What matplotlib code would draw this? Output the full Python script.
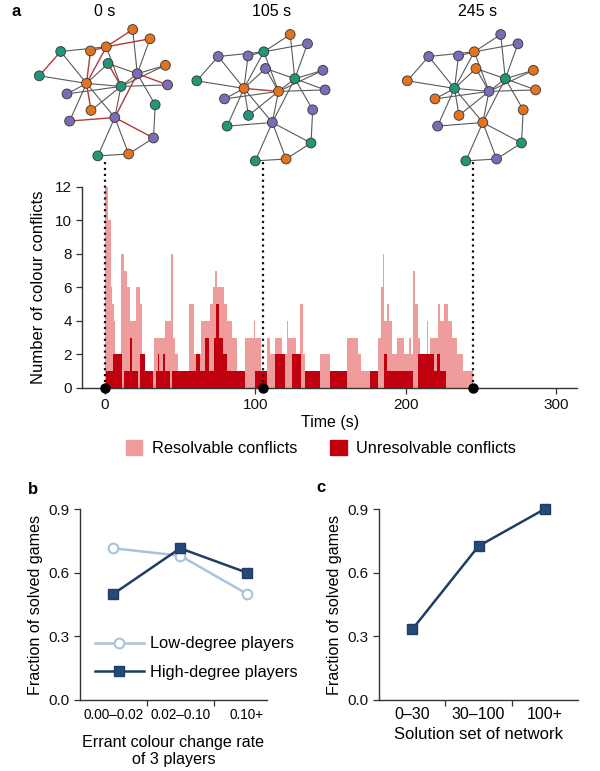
import matplotlib.pyplot as plt
from matplotlib.patches import Patch

plt.rcParams['font.family'] = ['Liberation Sans', 'DejaVu Sans']
plt.rcParams['font.size'] = 11

# ---- panel a: network snapshots ----
snap_times = [0, 105, 245]
snap_labels = ['0 s', '105 s', '245 s']
# node layout (same network in every snapshot)
node_x = [132.7, 150, 106.3, 90.5, 60.7, 108, 165.4, 137.3, 39.3, 86.5,
          121, 167.6, 67, 155.2, 91, 114.8, 69.6, 153.5, 97.8, 128.6]
node_y = [29.5, 38.8, 46.8, 50.9, 51.5, 63.5, 65.3, 73.7, 75.8, 83.4,
          86.4, 84.9, 93.9, 104.8, 110.4, 117.5, 121.1, 138, 155.9, 154]
links = [(1, 3), (1, 8), (2, 3), (2, 8), (3, 4), (5, 3), (5, 9), (5, 10), (4, 10),
         (3, 10), (3, 11), (6, 8), (6, 10), (6, 11), (9, 10), (10, 11), (10, 13),
         (10, 15), (10, 16), (10, 17), (8, 11), (11, 12), (11, 13), (11, 15),
         (8, 7), (11, 7), (8, 12), (8, 14), (8, 16), (14, 18), (11, 16), (16, 17),
         (16, 18), (16, 19), (16, 20), (18, 20), (19, 20)]
node_colours = [
    'OOOOGGOPGOGPPGOPPPGO',   # 0 s
    'OPGPPPPGGOOPPPGPGGGO',   # 105 s
    'PPOPPOOGOGPOOOOOPGGP',   # 245 s
]
palette = {'O': '#E2731F', 'G': '#23967A', 'P': '#7B6DB5'}

# ---- panel a: conflicts over time (step values) ----
t_total = [0, 2, 4, 5, 6, 7, 11, 12.5, 15, 17, 20.5, 23.5, 24.5, 27, 33, 40, 44, 45.5,
           47, 49, 56, 59, 64, 70, 72, 73, 74.5, 79, 81, 84.5, 88, 93.3, 99, 100, 104,
           108, 110, 113, 118, 121, 122, 127, 130, 131.5, 133, 143, 150, 161, 168.5,
           170, 181.3, 183.5, 184.8, 185.5, 187.5, 189.2, 190.8, 194, 198.6, 202,
           203.4, 204.7, 206.3, 208.5, 209.6, 214, 215, 216.3, 221.8, 223, 225.6,
           228.4, 230.7, 234, 238.4]
n_total = [12, 10, 6, 5, 4, 2, 8, 7, 6, 4, 6, 5, 2, 1, 3, 4, 8, 3, 2, 1,
           5, 2, 4, 5, 6, 7, 6, 5, 4, 3, 1, 3, 4, 3, 1, 3, 2, 3, 2, 4,
           3, 2, 5, 2, 1, 2, 1, 3, 2, 1, 3, 6, 8, 4, 5, 4, 2, 3, 2, 3,
           2, 7, 5, 3, 2, 4, 2, 3, 5, 4, 5, 4, 3, 2, 1]
t_unres = [0, 0.5, 5.6, 11.2, 13, 16.7, 17.8, 21.8, 23.4, 26.7, 32.2, 33.8, 35.5,
           36.2, 38.8, 39.8, 43.2, 45, 60.8, 63.4, 66.8, 69, 72.3, 74, 76, 78.9, 81,
           93.3, 100, 107.7, 113.2, 120, 124.3, 130.3, 133.2, 143.2, 149.8, 160.9,
           176.5, 181.3, 185.7, 187.5, 204.7, 208.5, 218.6, 220.8, 223, 226.5]
n_unres = [0, 1, 2, 0, 1, 3, 1, 0, 2, 1, 0, 1, 2, 1, 2, 1, 0, 1, 2, 1,
           3, 1, 3, 5, 3, 2, 1, 0, 1, 0, 2, 0, 2, 0, 1, 0, 1, 0, 1, 0,
           2, 1, 0, 2, 1, 2, 1, 0]
t_end = 245

# ---- panels b and c ----
rate_cats = ['0.00\u20130.02', '0.02\u20130.10', '0.10+']
low_degree = [0.715, 0.68, 0.50]
high_degree = [0.50, 0.715, 0.60]
sol_cats = ['0\u201330', '30\u2013100', '100+']
sol_frac = [0.333, 0.725, 0.90]

pink = '#EE9C9C'
darkred = '#C0000E'
axcol = '#333333'

fig = plt.figure(figsize=(6, 7.71), dpi=100)

# network overlay in pixel coordinates
net = fig.add_axes([0, 0, 1, 1])
net.set_xlim(0, 600)
net.set_ylim(771, 0)
net.axis('off')
shifts = [(0, 0), (157.5, 5), (368, 5)]
for k, cols in enumerate(node_colours):
    dx, dy = shifts[k]
    for a, b in links:
        same = cols[a - 1] == cols[b - 1]
        net.plot([node_x[a - 1] + dx, node_x[b - 1] + dx],
                 [node_y[a - 1] + dy, node_y[b - 1] + dy],
                 color='#B23A3A' if same else '#5a5a5a', lw=1.0 if same else 0.8,
                 zorder=1)
    net.scatter([x + dx for x in node_x], [y + dy for y in node_y], s=50,
                c=[palette[c] for c in cols], edgecolors='#333333', linewidths=0.6,
                zorder=2)
net.text(105, 12, snap_labels[0], ha='center', va='center', fontsize=11.5)
net.text(272, 12, snap_labels[1], ha='center', va='center', fontsize=11.5)
net.text(478, 12, snap_labels[2], ha='center', va='center', fontsize=11.5)
net.text(11, 12, 'a', ha='left', va='center', fontsize=12, fontweight='bold')
net.text(28, 490, 'b', ha='left', va='center', fontsize=12, fontweight='bold')
net.text(316, 487, 'c', ha='left', va='center', fontsize=12, fontweight='bold')


def style(ax):
    for s in ['top', 'right']:
        ax.spines[s].set_visible(False)
    for s in ['left', 'bottom']:
        ax.spines[s].set_color(axcol)
        ax.spines[s].set_linewidth(1.0)
    ax.tick_params(colors=axcol, labelcolor='#111111', length=4, width=0.9)


# histogram
ax = fig.add_axes([0.137, 0.4968, 0.825, 0.2607])
ax.stairs(n_total, t_total + [t_end], fill=True, color=pink, lw=0)
ax.stairs(n_unres, t_unres + [t_end], fill=True, color=darkred, lw=0)
for t in snap_times:
    ax.plot([t, t], [0, 13.6], ls=':', color='#111111', lw=1.6, clip_on=False, zorder=3)
ax.plot(snap_times, [0, 0, 0], 'o', color='black', ms=6.5, clip_on=False, zorder=4)
ax.set_xlim(-15, 314)
ax.set_ylim(0, 12)
ax.set_yticks(range(0, 13, 2))
ax.set_xticks([0, 100, 200, 300])
ax.set_xlabel('Time (s)', labelpad=2, fontsize=11.5)
ax.set_ylabel('Number of colour conflicts', labelpad=6, fontsize=12)
style(ax)
fig.legend(handles=[Patch(color=pink), Patch(color=darkred)],
           labels=['Resolvable conflicts', 'Unresolvable conflicts'],
           loc='center', bbox_to_anchor=(0.535, 0.419), ncol=2, frameon=False,
           handlelength=1.0, handleheight=1.0, columnspacing=2.0, handletextpad=0.6,
           fontsize=11.8)

# panel b
axb = fig.add_axes([0.1333, 0.0921, 0.3117, 0.2477])
axb.plot(range(3), low_degree, '-o', color='#A8C3DC', lw=1.8, ms=7,
         mfc='white', mec='#A8C3DC', mew=1.5, label='Low-degree players', clip_on=False)
axb.plot(range(3), high_degree, '-s', color='#1F3E63', lw=1.8, ms=6.5,
         mfc='#26497A', mec='#1F3E63', label='High-degree players', clip_on=False)
axb.set_xlim(-0.5, 2.3)
axb.set_ylim(0, 0.9)
axb.set_yticks([0, 0.3, 0.6, 0.9])
axb.set_yticklabels(['0.0', '0.3', '0.6', '0.9'], fontsize=11)
axb.set_xticks([0.5, 1.5])
axb.set_xticklabels([])
axb.set_xticks(range(3), minor=True)
axb.set_xticklabels(rate_cats, minor=True, fontsize=9.8)
axb.set_ylabel('Fraction of solved games', fontsize=11.6)
axb.set_xlabel('Errant colour change rate\nof 3 players', labelpad=9, fontsize=11.6)
style(axb)
axb.tick_params(axis='x', which='minor', length=0, pad=6)
axb.legend(loc='lower left', bbox_to_anchor=(0.0, 0.03), frameon=False,
           handlelength=3.0, handletextpad=0.4, labelspacing=0.8, fontsize=11.8)

# panel c
axc = fig.add_axes([0.632, 0.0921, 0.331, 0.2477])
axc.plot(range(3), sol_frac, '-s', color='#1F3E63', lw=1.8, ms=6.5,
         mfc='#26497A', mec='#1F3E63', clip_on=False)
axc.set_xlim(-0.5, 2.5)
axc.set_ylim(0, 0.9)
axc.set_yticks([0, 0.3, 0.6, 0.9])
axc.set_yticklabels(['0.0', '0.3', '0.6', '0.9'], fontsize=11)
axc.set_xticks([0.5, 1.5])
axc.set_xticklabels([])
axc.set_xticks(range(3), minor=True)
axc.set_xticklabels(sol_cats, minor=True, fontsize=11.5)
axc.set_ylabel('Fraction of solved games', fontsize=11.6)
axc.set_xlabel('Solution set of network', labelpad=4, fontsize=12)
style(axc)
axc.tick_params(axis='x', which='minor', length=0, pad=5)

fig.savefig('out.png', dpi=100)
